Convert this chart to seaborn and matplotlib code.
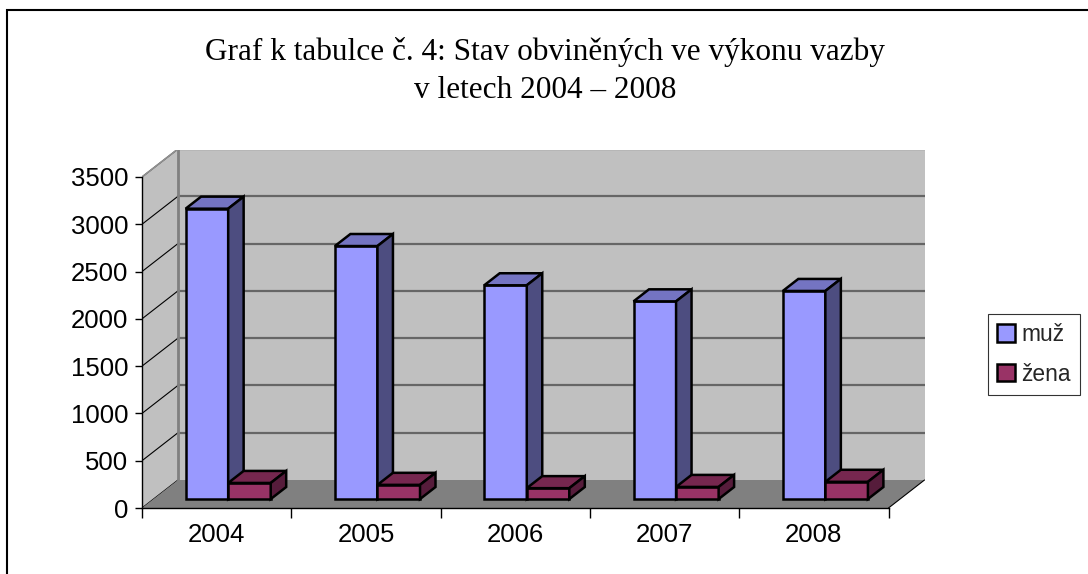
import matplotlib
matplotlib.use("Agg")
import matplotlib.pyplot as plt
import seaborn as sns
import pandas as pd
from matplotlib.patches import Polygon, Rectangle

# ---- data ----
years = ["2004", "2005", "2006", "2007", "2008"]
muz = [3070, 2675, 2260, 2090, 2200]
zena = [170, 150, 115, 128, 182]
series_names = ["muž", "žena"]
yticks = [0, 500, 1000, 1500, 2000, 2500, 3000, 3500]
title_lines = ["Graf k tabulce č. 4: Stav obviněných ve výkonu vazby",
               "v letech 2004 – 2008"]

df = pd.DataFrame({
    "year": years * 2,
    "value": muz + zena,
    "sex": [series_names[0]] * len(years) + [series_names[1]] * len(years),
})

front_cols = ["#9999FF", "#993366"]
top_cols = ["#7474C2", "#76274F"]
side_cols = ["#4D4D80", "#561C3B"]

sns.set_theme(style="white")
plt.rcParams["font.family"] = ["Liberation Sans", "DejaVu Sans"]

W, H = 1088, 574
fig = plt.figure(figsize=(W / 100, H / 100), dpi=100)

# pixel geometry of plot area
px_left, px_right = 142, 925
px_zero, px_top = 508, 150
cat_px = 149.3
val_px = 47.29 / 500.0
ax = fig.add_axes([px_left / W, (H - px_zero) / H,
                   (px_right - px_left) / W, (px_zero - px_top) / H])

xmin = -0.5
xmax = -0.5 + (px_right - px_left) / cat_px
ymax = (px_zero - px_top) / val_px

DX = 36 / cat_px          # depth offset in category units
DY = 28 / val_px          # depth offset in value units
fshift = 0.32             # bar position in depth
fdepth = 0.43             # bar depth

sns.barplot(data=df, x="year", y="value", hue="sex", palette=front_cols,
            width=0.57, ax=ax, legend=False, saturation=1, zorder=3)
bars = [q for q in ax.patches if isinstance(q, Rectangle)]

ax.set_xlim(xmin, xmax)
ax.set_ylim(0, ymax)

# walls & floor
nc = len(years)
back = Rectangle((-0.5 + DX, DY), nc, yticks[-1], facecolor="#C0C0C0",
                 edgecolor="none", zorder=0)
ax.add_patch(back)
leftwall = Polygon([(-0.5, 0), (-0.5, yticks[-1]), (-0.5 + DX, yticks[-1] + DY),
                    (-0.5 + DX, DY)], closed=True, facecolor="#C0C0C0",
                   edgecolor="none", zorder=0)
ax.add_patch(leftwall)
floor = Polygon([(-0.5, 0), (nc - 0.5, 0), (nc - 0.5 + DX, DY), (-0.5 + DX, DY)],
                closed=True, facecolor="#808080", edgecolor="none", zorder=1)
ax.add_patch(floor)
ax.plot([nc - 0.5, nc - 0.5 + DX], [0, DY], color="black", lw=0.8, zorder=2)
for v in yticks[1:]:
    ax.plot([-0.5 + DX, nc - 0.5 + DX], [v + DY, v + DY], color="#666666",
            lw=1.6, zorder=0.5)
for v in yticks:
    ax.plot([-0.5, -0.5 + DX], [v, v + DY], color="black", lw=0.8, zorder=0.6)
ax.plot([-0.5 + DX, -0.5 + DX], [DY, yticks[-1] + DY], color="#808080", lw=2,
        zorder=0.7)
ax.plot([-0.5, -0.5 + DX], [yticks[-1], yticks[-1] + DY], color="#909090",
        lw=1.2, zorder=0.7)

# 3D bars
sx, sy = fshift * DX, fshift * DY
bdx, bdy = fdepth * DX, fdepth * DY
for p in bars:
    s = 0 if p.get_facecolor()[2] > 0.8 else 1
    x, w, h = p.get_x(), p.get_width(), p.get_height()
    x += sx
    p.set_x(x)
    p.set_y(sy)
    z = 3 + s
    p.set_zorder(z)
    p.set_edgecolor("black")
    p.set_linewidth(1.8)
    y = sy
    top = Polygon([(x, y + h), (x + w, y + h), (x + w + bdx, y + h + bdy),
                   (x + bdx, y + h + bdy)], closed=True, facecolor=top_cols[s],
                  edgecolor="black", lw=1.8, zorder=z, joinstyle="miter")
    side = Polygon([(x + w, y), (x + w, y + h), (x + w + bdx, y + h + bdy),
                    (x + w + bdx, y + bdy)], closed=True, facecolor=side_cols[s],
                   edgecolor="black", lw=1.8, zorder=z, joinstyle="miter")
    ax.add_patch(top)
    ax.add_patch(side)

# axes styling
for sp in ["top", "right"]:
    ax.spines[sp].set_visible(False)
ax.spines["left"].set_bounds(0, yticks[-1])
ax.spines["bottom"].set_bounds(-0.5, nc - 0.5)
for sp in ["left", "bottom"]:
    ax.spines[sp].set_color("black")
    ax.spines[sp].set_linewidth(1.0)
    ax.spines[sp].set_zorder(5)

ax.set_yticks(yticks)
ax.set_yticklabels([str(v) for v in yticks])
ax.set_xticks(range(nc))
ax.set_xticklabels(years)
ax.set_xticks([i - 0.5 for i in range(nc + 1)], minor=True)
ax.tick_params(axis="x", which="major", length=0, pad=11, labelsize=18.5,
               colors="black")
ax.tick_params(axis="x", which="minor", length=7, width=1, color="black",
               direction="out", bottom=True)
ax.tick_params(axis="y", length=5, width=1, color="black", direction="out",
               left=True, pad=5, labelsize=18.5, labelcolor="black")
ax.set_xlabel("")
ax.set_ylabel("")
ax.grid(False)

# legend
handles = [Rectangle((0, 0), 1, 1, facecolor=c, edgecolor="black", lw=1.8)
           for c in front_cols]
leg = fig.legend(handles, series_names, loc="upper left",
                 bbox_to_anchor=(988 / W, 1 - 314 / H), frameon=True,
                 fancybox=False, edgecolor="black", fontsize=16.4,
                 handlelength=0.8, handleheight=0.8, handletextpad=0.25,
                 borderpad=0.4, labelspacing=0.72, borderaxespad=0)
leg.get_frame().set_linewidth(0.8)

# title
for ty, t in zip([52, 90], title_lines):
    fig.text(545 / W, 1 - ty / H, t, ha="center", va="center",
             family=["Liberation Serif", "DejaVu Serif"], fontsize=22.5,
             color="black")

# outer frame
fig.patches.append(Rectangle((7 / W, -0.1), 1.2, 1 - 10 / H + 0.1,
                             transform=fig.transFigure, fill=False,
                             edgecolor="black", lw=1.5))

fig.savefig("out.png", dpi=100)
